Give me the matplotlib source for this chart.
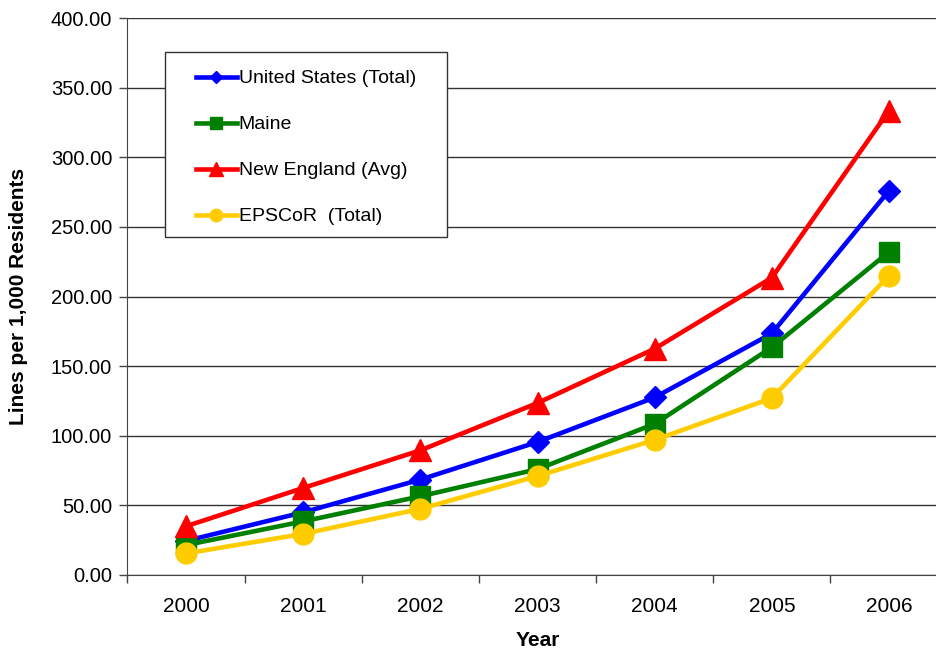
import numpy as np
import matplotlib.pyplot as plt
from matplotlib.patches import Rectangle
from matplotlib.ticker import FormatStrFormatter, FixedLocator

plt.rcParams['font.family'] = ['Liberation Sans', 'DejaVu Sans']

# 数据
years = ['2000', '2001', '2002', '2003', '2004', '2005', '2006']
us_total = [24.5, 45.0, 68.5, 95.5, 127.5, 173.5, 276.0]
maine = [21.5, 38.5, 56.5, 76.0, 108.5, 163.5, 232.0]
new_england = [35.0, 62.5, 89.5, 123.5, 162.5, 213.5, 333.5]
epscor = [15.5, 29.5, 47.5, 71.0, 97.0, 127.0, 215.0]

x = np.arange(len(years))

fig = plt.figure(figsize=(9.37, 6.49), dpi=100)
ax = fig.add_axes([127.4/937, 74/649, 820.2/937, 557/649])

ax.plot(x, us_total, color='#0000FF', lw=3.3, marker='D', ms=11, label='United States (Total)')
ax.plot(x, maine, color='#008000', lw=3.3, marker='s', ms=14, label='Maine')
ax.plot(x, new_england, color='#FF0000', lw=3.3, marker='^', ms=16, label='New England (Avg)')
ax.plot(x, epscor, color='#FFCC00', lw=3.3, marker='o', ms=15, label='EPSCoR  (Total)')

ax.set_xlim(-0.5, 6.5)
ax.set_ylim(0, 400)
ax.set_yticks(np.arange(0, 401, 50))
ax.yaxis.set_major_formatter(FormatStrFormatter('%.2f'))
ax.grid(axis='y', color='#333333', lw=1)
ax.set_axisbelow(True)

ax.set_xticks(x)
ax.set_xticklabels(years)
ax.xaxis.set_minor_locator(FixedLocator(np.arange(-0.5, 7, 1)))
ax.tick_params(axis='x', which='major', length=0, pad=16, labelsize=15)
ax.tick_params(axis='x', which='minor', length=6, color='#444444', width=1)
ax.tick_params(axis='y', length=6, color='#444444', width=1, pad=5, labelsize=14.5)

for s in ['top', 'right']:
    ax.spines[s].set_visible(False)
ax.spines['left'].set_color('#444444')
ax.spines['bottom'].set_color('#444444')

ax.set_xlabel('Year', fontsize=15, fontweight='bold')
ax.set_ylabel('Lines per 1,000 Residents', fontsize=15, fontweight='bold')
ax.xaxis.set_label_coords(0.5, -0.1005)
ax.yaxis.set_label_coords(-0.1212, 0.5)

# 图例（框单独画）
ax.add_patch(Rectangle(((165-127.4)/820.2, (575-237)/557), 282/820.2, 185/557,
                       transform=ax.transAxes, facecolor='white', edgecolor='#333333',
                       lw=1, zorder=4))
leg = ax.legend(loc='upper left', bbox_to_anchor=(0.0836, 0.907), fontsize=14,
                frameon=False, borderpad=0, labelspacing=1.46, handlelength=2.1,
                handletextpad=0.1, borderaxespad=0, markerscale=0.6)
leg.set_zorder(5)

plt.savefig('out.png', dpi=100)
